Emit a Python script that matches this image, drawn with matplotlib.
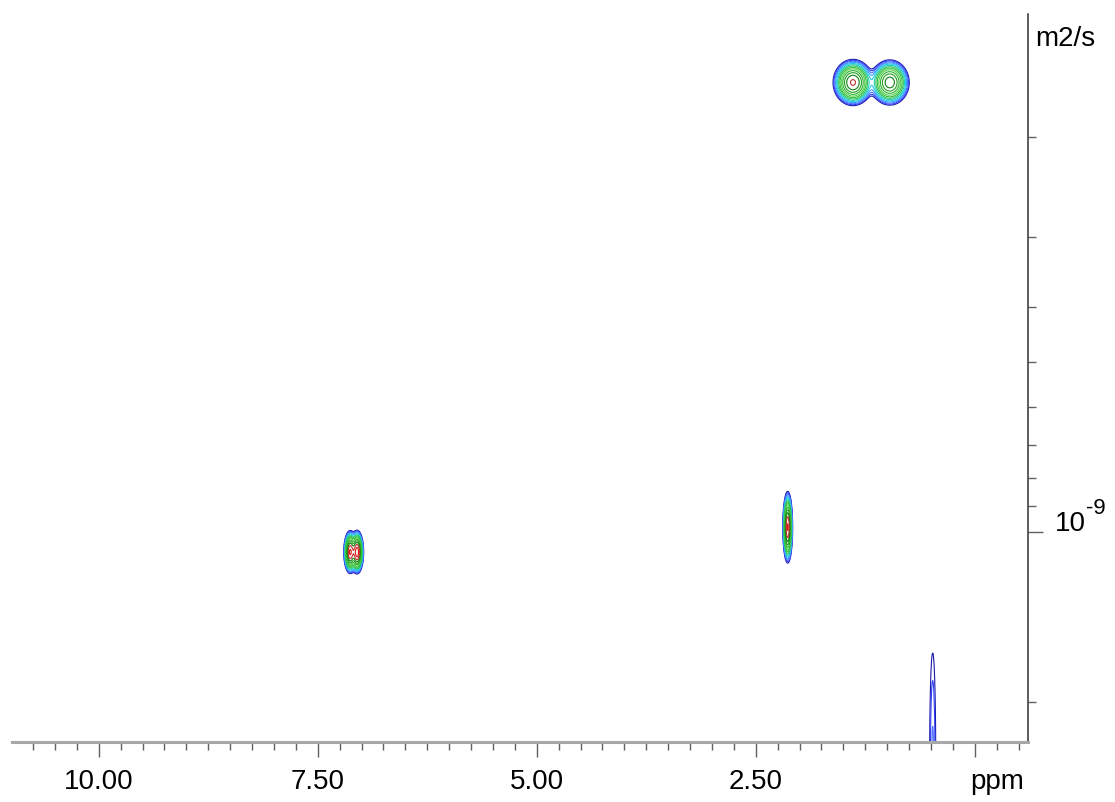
import numpy as np
import matplotlib
matplotlib.use("Agg")
import matplotlib.pyplot as plt
from matplotlib.ticker import FixedLocator, MultipleLocator, NullFormatter, FuncFormatter, LogLocator

plt.rcParams['font.family'] = ['Liberation Sans', 'DejaVu Sans']

# peaks: chemical shift (ppm), log10 of D (m2/s),
# widths and relative intensity
peak_ppm = [1.39, 0.97, 7.13, 7.05, 2.135, 0.48]
peak_logd = [-9.796, -9.796, -8.965, -8.965, -9.009, -8.598]
peak_sig_ppm = [0.090, 0.090, 0.028, 0.028, 0.0216, 0.032]
peak_sig_logd = [0.0162, 0.0162, 0.0145, 0.0145, 0.0242, 0.175]
peak_amp = [0.98, 0.85, 1.25, 1.4, 1.25, 0.0715]

# contour levels and their colours (low -> high)
levels = [0.04 * 1.3 ** k for k in range(16)]
level_colors = ['#1a1aa8', '#3040ff', '#5070ff', '#3aa0ff', '#20c8e8', '#20d0b0',
                '#30c060', '#30c030', '#50d050', '#30b030', '#20a020', '#108010',
                '#c03030', '#e01010', '#f00000', '#ff0000']

x_major = [0.0, 2.5, 5.0, 7.5, 10.0]

ppm = np.linspace(-0.7, 11.1, 3200)
logd = np.linspace(-10.0, -8.3, 900)
P, L = np.meshgrid(ppm, logd)
Z = np.zeros_like(P)
for x0, y0, sx, sy, a in zip(peak_ppm, peak_logd, peak_sig_ppm, peak_sig_logd, peak_amp):
    Z += a * np.exp(-0.5 * ((P - x0) / sx) ** 2 - 0.5 * ((L - y0) / sy) ** 2)

fig = plt.figure(figsize=(11.15, 8.03), dpi=100)
ax = fig.add_axes([12 / 1115, 60 / 803, (1028 - 12) / 1115, (743 - 15) / 803])

ax.contour(P, 10 ** L, Z, levels=levels, colors=level_colors, linewidths=0.8)

ax.set_yscale('log')
ax.set_xlim(10.99, -0.608)
ax.set_ylim(2.35e-9, 1.21e-10)

for s in ['top', 'left']:
    ax.spines[s].set_visible(False)
ax.spines['bottom'].set_color('#a8a8a8')
ax.spines['bottom'].set_linewidth(2.2)
ax.spines['right'].set_color('#303030')
ax.spines['right'].set_linewidth(1.1)

ax.xaxis.set_major_locator(FixedLocator(x_major))
ax.xaxis.set_minor_locator(MultipleLocator(0.25))
ax.xaxis.set_major_formatter(FuncFormatter(lambda v, p: '' if abs(v) < 1e-6 else f'{v:.2f}'))
ax.tick_params(axis='x', which='major', length=11, width=1, color='#606060',
               labelsize=20, pad=8, direction='out')
ax.tick_params(axis='x', which='minor', length=6, width=1, color='#606060', direction='out')

ax.yaxis.tick_right()
ax.yaxis.set_major_locator(LogLocator(base=10))
ax.yaxis.set_minor_locator(LogLocator(base=10, subs=np.arange(2, 10)))
ax.yaxis.set_major_formatter(NullFormatter())
ax.yaxis.set_minor_formatter(NullFormatter())
ax.tick_params(axis='y', which='major', length=11, width=1, color='#606060', direction='out')
ax.tick_params(axis='y', which='minor', length=6, width=1, color='#606060', direction='out')

# 10^-9 label next to the major tick, exponent written with a plain hyphen
ax.annotate('10', xy=(1, 1e-9), xycoords=('axes fraction', 'data'),
            xytext=(19, 2), textcoords='offset points', ha='left', va='baseline', fontsize=20)
ax.annotate('-9', xy=(1, 1e-9), xycoords=('axes fraction', 'data'),
            xytext=(42, 14), textcoords='offset points', ha='left', va='baseline', fontsize=16)
ax.annotate('m2/s', xy=(1, 1), xycoords='axes fraction', xytext=(5, -8),
            textcoords='offset points', ha='left', va='top', fontsize=20)
ax.annotate('ppm', xy=(1, 0), xycoords='axes fraction', xytext=(-22, -19),
            textcoords='offset points', ha='center', va='top', fontsize=20)

fig.savefig('out.png', dpi=100)
